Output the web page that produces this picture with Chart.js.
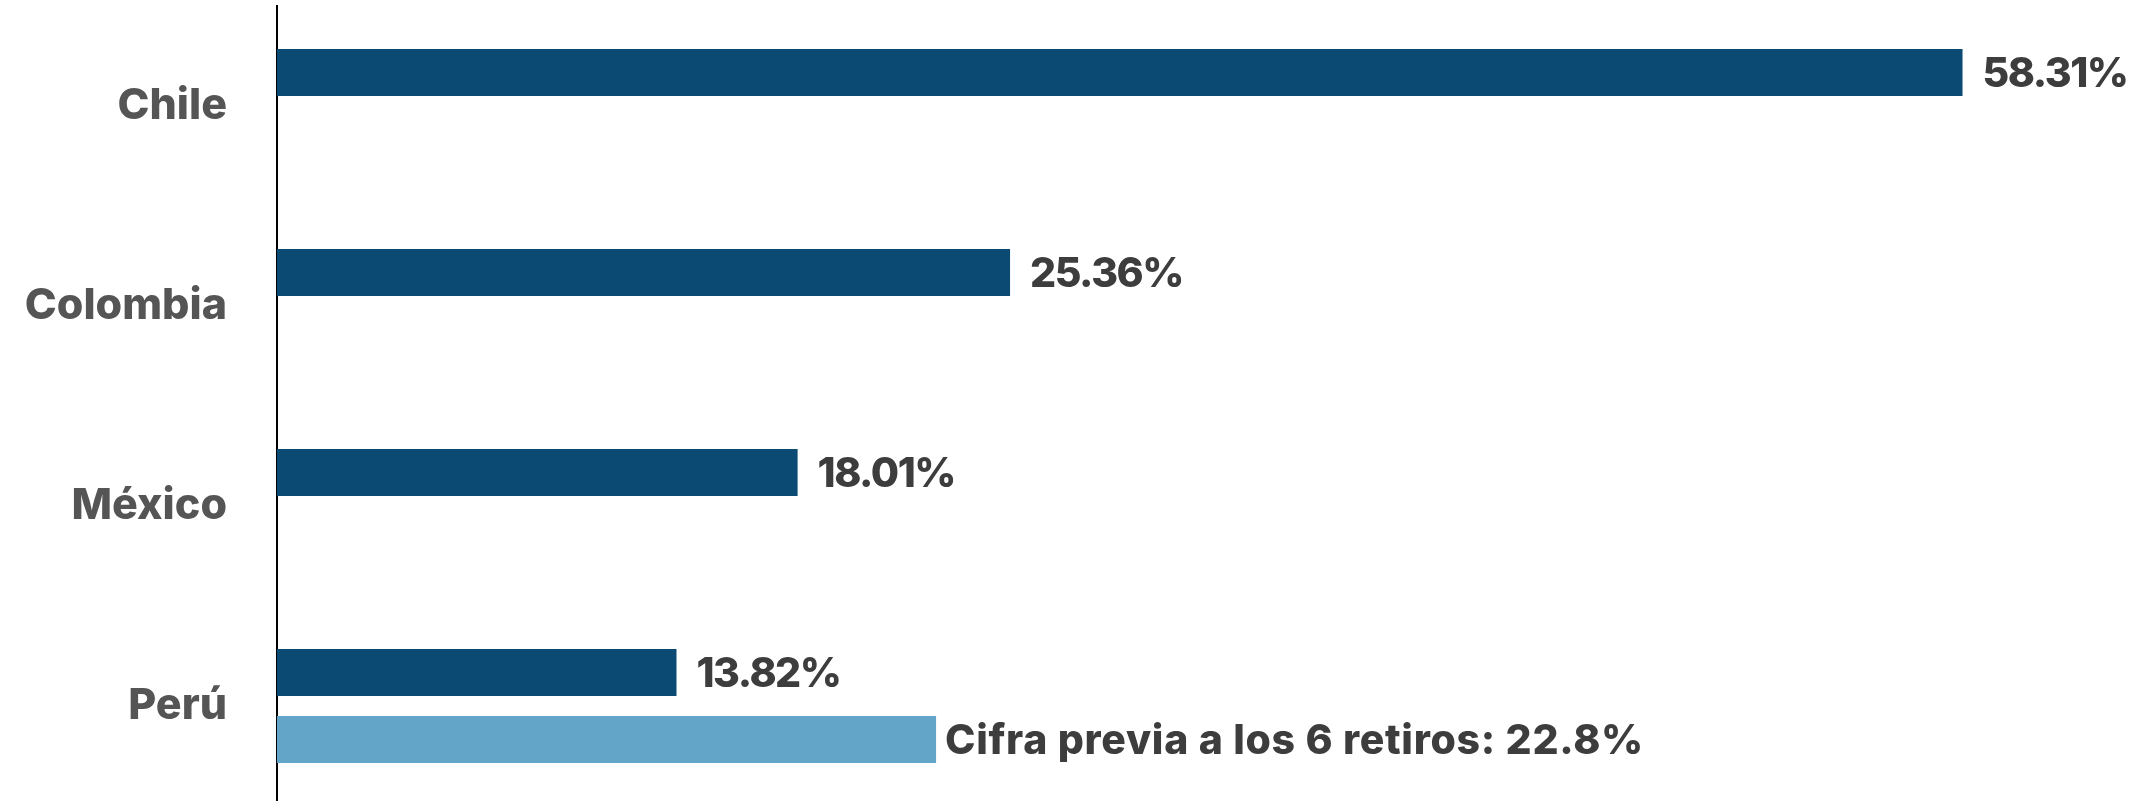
<!DOCTYPE html>
<html>
<head>
<meta charset="utf-8">
<script src="https://cdn.jsdelivr.net/npm/chart.js@4"></script>
<style>
  body { margin: 0; background: #fff; overflow: hidden; }
  #wrap { width: 2141px; height: 801px; overflow: hidden; }
</style>
</head>
<body>
<div id="wrap"><canvas id="grafico" width="2141" height="812"></canvas></div>
<script>
const paises = ["Chile", "Colombia", "México", "Perú"];
const valoresActuales = [58.31, 25.36, 18.01, 13.82];
const valoresPrevios = [null, null, null, 22.8];
const textoPrevio = "Cifra previa a los 6 retiros: ";

const FUENTE = "Inter, 'Open Sans', sans-serif";

// etiquetas de valor al final de cada barra
const etiquetas = {
  id: "etiquetas",
  afterDatasetsDraw(chart) {
    const ctx = chart.ctx;
    ctx.save();
    ctx.fillStyle = "#3d3d3d";
    ctx.font = "800 41px " + FUENTE;
    ctx.textBaseline = "middle";
    ctx.textAlign = "left";
    chart.data.datasets.forEach((ds, i) => {
      const meta = chart.getDatasetMeta(i);
      meta.data.forEach((bar, j) => {
        const v = ds.data[j];
        if (v == null) return;
        const txt = i === 0 ? v.toFixed(2) + "%" : textoPrevio + v + "%";
        ctx.letterSpacing = i === 0 ? "-1.5px" : "0.7px";
        const gap = i === 0 ? 20 : 9;
        ctx.fillText(txt, bar.x + gap, bar.y + 2);
      });
    });
    ctx.restore();
  }
};

new Chart(document.getElementById("grafico"), {
  type: "bar",
  data: {
    labels: paises,
    datasets: [
      {
        label: "Actual",
        data: valoresActuales,
        backgroundColor: "#0b4a72",
        categoryPercentage: 0.67,
        barPercentage: 0.7
      },
      {
        label: "Previa",
        data: valoresPrevios,
        backgroundColor: "#63a5c8",
        categoryPercentage: 0.67,
        barPercentage: 0.7
      }
    ]
  },
  options: {
    indexAxis: "y",
    responsive: false,
    animation: false,
    layout: { padding: { top: 6, right: 14, bottom: 6, left: 0 } },
    plugins: {
      legend: { display: false },
      tooltip: { enabled: false }
    },
    scales: {
      x: { display: false, min: 0, max: 64 },
      y: {
        grid: { display: false, drawTicks: false },
        border: { display: true, color: "#000", width: 2 },
        ticks: {
          color: "#555",
          padding: 50,
          font: { family: FUENTE, size: 43, weight: "800" }
        },
        afterFit(axis) {
          axis.width = 277;
          axis.paddingTop = 0;
          axis.paddingBottom = 0;
        }
      }
    }
  },
  plugins: [etiquetas]
});
</script>
</body>
</html>
